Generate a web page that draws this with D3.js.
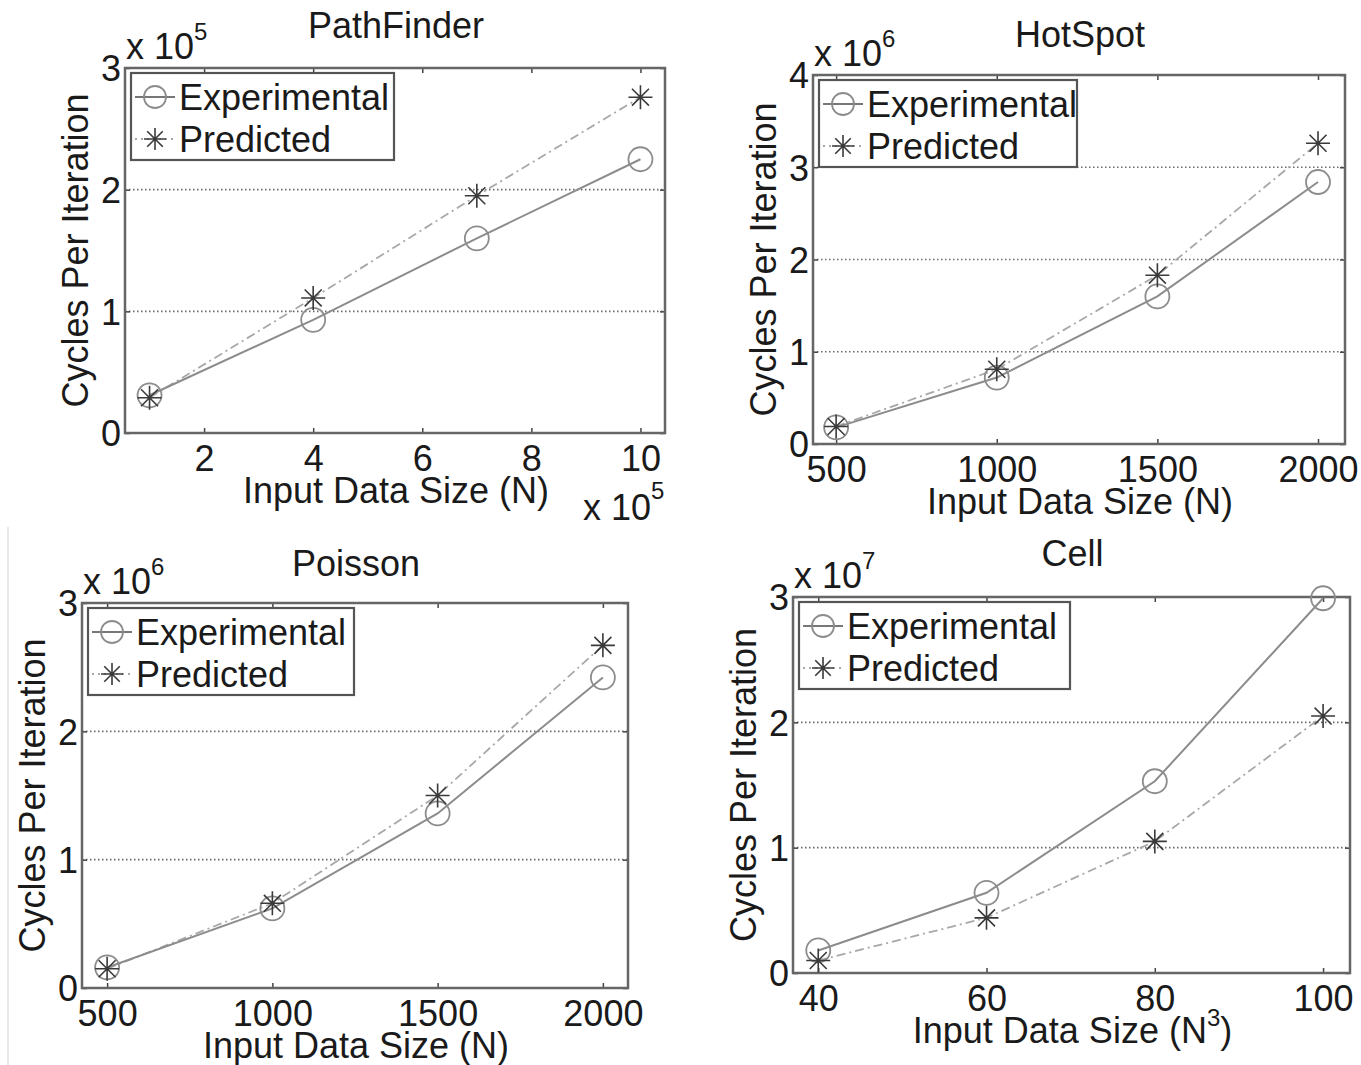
<!DOCTYPE html>
<html>
<head>
<meta charset="utf-8">
<script src="https://cdn.jsdelivr.net/npm/d3@7"></script>
<style>
  html, body { margin: 0; padding: 0; background: #fff; }
  svg { display: block; }
  text { font-family: "Liberation Sans", Arial, sans-serif; fill: #1a1a1a; }
</style>
</head>
<body>
<svg id="chart" width="1361" height="1065"></svg>
<script>
// ---------------- DATA ----------------
const seriesNames = ["Experimental", "Predicted"];

const pathfinderX    = [1, 4, 7, 10];          // x 10^5
const pathfinderExp  = [0.31, 0.93, 1.60, 2.25]; // x 10^5
const pathfinderPred = [0.29, 1.11, 1.95, 2.76];
const pathfinderXTicks = [2, 4, 6, 8, 10];
const pathfinderYTicks = [0, 1, 2, 3];

const hotspotX    = [500, 1000, 1500, 2000];
const hotspotExp  = [0.18, 0.72, 1.60, 2.84];  // x 10^6
const hotspotPred = [0.19, 0.81, 1.83, 3.26];
const hotspotXTicks = [500, 1000, 1500, 2000];
const hotspotYTicks = [0, 1, 2, 3, 4];

const poissonX    = [500, 1000, 1500, 2000];
const poissonExp  = [0.16, 0.62, 1.36, 2.42];  // x 10^6
const poissonPred = [0.15, 0.66, 1.50, 2.67];
const poissonXTicks = [500, 1000, 1500, 2000];
const poissonYTicks = [0, 1, 2, 3];

const cellX    = [40, 60, 80, 100];
const cellExp  = [0.18, 0.64, 1.53, 2.99];     // x 10^7
const cellPred = [0.10, 0.44, 1.05, 2.05];
const cellXTicks = [40, 60, 80, 100];
const cellYTicks = [0, 1, 2, 3];

// ---------------- LAYOUT ----------------
const panels = [
  { title: "PathFinder", x: pathfinderX, exp: pathfinderExp, pred: pathfinderPred,
    xTicks: pathfinderXTicks, yTicks: pathfinderYTicks,
    xDomain: [0.55, 10.45], yDomain: [0, 3],
    box: { l: 125, r: 665, t: 68, b: 433 }, yExp: "5", xExp: "5",
    xLabel: "Input Data Size (N)", xSup: null, titleY: 38, legendW: 263 },
  { title: "HotSpot", x: hotspotX, exp: hotspotExp, pred: hotspotPred,
    xTicks: hotspotXTicks, yTicks: hotspotYTicks,
    xDomain: [428, 2084], yDomain: [0, 4],
    box: { l: 813, r: 1345, t: 75, b: 444 }, yExp: "6", xExp: null,
    xLabel: "Input Data Size (N)", xSup: null, titleY: 47, legendW: 258 },
  { title: "Poisson", x: poissonX, exp: poissonExp, pred: poissonPred,
    xTicks: poissonXTicks, yTicks: poissonYTicks,
    xDomain: [424, 2076], yDomain: [0, 3],
    box: { l: 82, r: 628, t: 603, b: 988 }, yExp: "6", xExp: null,
    xLabel: "Input Data Size (N)", xSup: null, titleY: 576, legendW: 266 },
  { title: "Cell", x: cellX, exp: cellExp, pred: cellPred,
    xTicks: cellXTicks, yTicks: cellYTicks,
    xDomain: [37, 103.2], yDomain: [0, 3],
    box: { l: 793, r: 1350, t: 597, b: 973 }, yExp: "7", xExp: null,
    xLabel: "Input Data Size (N", xSup: "3", titleY: 566, legendW: 271 }
];

const FS = 36;
const expColor = "#8c8c8c", predColor = "#a8a8a8", starColor = "#3a3a3a";

const svg = d3.select("#chart");
svg.append("rect").attr("width", 1361).attr("height", 1065).attr("fill", "#fff");
// faint separator line at left edge
svg.append("line").attr("x1", 8).attr("x2", 8).attr("y1", 527).attr("y2", 1065)
  .attr("stroke", "#e2e2e2").attr("stroke-width", 1.5);

function starPath(cx, cy, s) {
  const d = s * 0.7071;
  return `M${cx - s},${cy}L${cx + s},${cy}M${cx},${cy - s}L${cx},${cy + s}` +
         `M${cx - d},${cy - d}L${cx + d},${cy + d}M${cx - d},${cy + d}L${cx + d},${cy - d}`;
}

panels.forEach(p => {
  const B = p.box;
  const xs = d3.scaleLinear().domain(p.xDomain).range([B.l, B.r]);
  const ys = d3.scaleLinear().domain(p.yDomain).range([B.b, B.t]);
  const g = svg.append("g");

  // grid (horizontal dotted)
  g.selectAll(".grid").data(p.yTicks.filter(t => t > p.yDomain[0] && t < p.yDomain[1]))
    .enter().append("line")
    .attr("x1", B.l).attr("x2", B.r)
    .attr("y1", d => ys(d)).attr("y2", d => ys(d))
    .attr("stroke", "#6a6a6a").attr("stroke-width", 1.6)
    .attr("stroke-dasharray", "1.5,2.5");

  // axes via d3 (bottom, top, left, right) with inward ticks
  const tl = 5;
  const ax = g.append("g").attr("transform", `translate(0,${B.b})`)
    .call(d3.axisBottom(xs).tickValues(p.xTicks).tickSize(-tl).tickPadding(10).tickFormat(d3.format("d")));
  ax.select(".domain").remove();
  ax.selectAll("line").attr("stroke", "#444").attr("stroke-width", 1.5);
  ax.selectAll("text").attr("font-size", FS).attr("fill", "#1a1a1a")
    .attr("font-family", '"Liberation Sans", Arial, sans-serif')
    .attr("dy", null).attr("y", 38).attr("dominant-baseline", "alphabetic");

  const axT = g.append("g").attr("transform", `translate(0,${B.t})`)
    .call(d3.axisTop(xs).tickValues(p.xTicks).tickSize(-tl).tickFormat(""));
  axT.select(".domain").remove();
  axT.selectAll("line").attr("stroke", "#444").attr("stroke-width", 1.5);

  const ay = g.append("g").attr("transform", `translate(${B.l},0)`)
    .call(d3.axisLeft(ys).tickValues(p.yTicks).tickSize(-tl).tickPadding(6).tickFormat(d3.format("d")));
  ay.select(".domain").remove();
  ay.selectAll("line").attr("stroke", "#444").attr("stroke-width", 1.5);
  ay.selectAll("text").attr("font-size", FS).attr("fill", "#1a1a1a")
    .attr("font-family", '"Liberation Sans", Arial, sans-serif')
    .attr("dy", "0.36em").attr("x", -4);

  const ayR = g.append("g").attr("transform", `translate(${B.r},0)`)
    .call(d3.axisRight(ys).tickValues(p.yTicks).tickSize(-tl).tickFormat(""));
  ayR.select(".domain").remove();
  ayR.selectAll("line").attr("stroke", "#444").attr("stroke-width", 1.5);

  // box
  g.append("rect").attr("x", B.l).attr("y", B.t)
    .attr("width", B.r - B.l).attr("height", B.b - B.t)
    .attr("fill", "none").attr("stroke", "#666").attr("stroke-width", 2.5);

  // title
  g.append("text").attr("x", (B.l + B.r) / 2 + 1).attr("y", p.titleY)
    .attr("text-anchor", "middle").attr("font-size", FS).text(p.title);

  // y exponent label
  const ye = g.append("text").attr("x", B.l + 1).attr("y", B.t - 9).attr("font-size", FS);
  ye.append("tspan").text("x 10");
  ye.append("tspan").attr("font-size", 24).attr("dy", -19).text(p.yExp);

  // x exponent label
  if (p.xExp) {
    const xe = g.append("text").attr("x", B.r - 82).attr("y", B.b + 87).attr("font-size", FS);
    xe.append("tspan").text("x 10");
    xe.append("tspan").attr("font-size", 24).attr("dy", -21).text(p.xExp);
  }

  // x label
  const xl = g.append("text").attr("x", (B.l + B.r) / 2 + 1).attr("y", B.b + 70)
    .attr("text-anchor", "middle").attr("font-size", FS);
  xl.append("tspan").text(p.xLabel);
  if (p.xSup) {
    xl.append("tspan").attr("font-size", 24).attr("dy", -17).text(p.xSup);
    xl.append("tspan").attr("font-size", FS).attr("dy", 17).text(")");
  }

  // y label
  g.append("text")
    .attr("transform", `translate(${B.l - 37},${(B.t + B.b) / 2}) rotate(-90)`)
    .attr("text-anchor", "middle").attr("font-size", FS).text("Cycles Per Iteration");

  // series lines
  const expPts = p.x.map((v, i) => [v, p.exp[i]]);
  const predPts = p.x.map((v, i) => [v, p.pred[i]]);
  const line = d3.line().x(d => xs(d[0])).y(d => ys(d[1]));

  g.append("path").attr("d", line(predPts)).attr("fill", "none")
    .attr("stroke", predColor).attr("stroke-width", 1.8)
    .attr("stroke-dasharray", "9,4,2,4");
  g.append("path").attr("d", line(expPts)).attr("fill", "none")
    .attr("stroke", expColor).attr("stroke-width", 2);

  g.selectAll(".circ").data(expPts).enter().append("circle")
    .attr("cx", d => xs(d[0])).attr("cy", d => ys(d[1])).attr("r", 12)
    .attr("fill", "none").attr("stroke", expColor).attr("stroke-width", 1.8);
  g.selectAll(".star").data(predPts).enter().append("path")
    .attr("d", d => starPath(xs(d[0]), ys(d[1]), 12))
    .attr("fill", "none").attr("stroke", starColor).attr("stroke-width", 1.6);

  // legend
  const lx = B.l + 6, ly = B.t + 5, lw = p.legendW, lh = 87;
  g.append("rect").attr("x", lx).attr("y", ly).attr("width", lw).attr("height", lh)
    .attr("fill", "#fff").attr("stroke", "#555").attr("stroke-width", 2.2);
  const rows = [ly + 24, ly + 66];
  // experimental
  g.append("line").attr("x1", lx + 4).attr("x2", lx + 44).attr("y1", rows[0]).attr("y2", rows[0])
    .attr("stroke", "#777").attr("stroke-width", 2);
  g.append("circle").attr("cx", lx + 24).attr("cy", rows[0]).attr("r", 11)
    .attr("fill", "none").attr("stroke", expColor).attr("stroke-width", 1.8);
  g.append("text").attr("x", lx + 48).attr("y", rows[0] + 13).attr("font-size", FS).text(seriesNames[0]);
  // predicted
  g.append("line").attr("x1", lx + 4).attr("x2", lx + 44).attr("y1", rows[1]).attr("y2", rows[1])
    .attr("stroke", predColor).attr("stroke-width", 1.8).attr("stroke-dasharray", "2,4");
  g.append("path").attr("d", starPath(lx + 24, rows[1], 11))
    .attr("fill", "none").attr("stroke", starColor).attr("stroke-width", 1.6);
  g.append("text").attr("x", lx + 48).attr("y", rows[1] + 13).attr("font-size", FS).text(seriesNames[1]);
});
</script>
</body>
</html>
